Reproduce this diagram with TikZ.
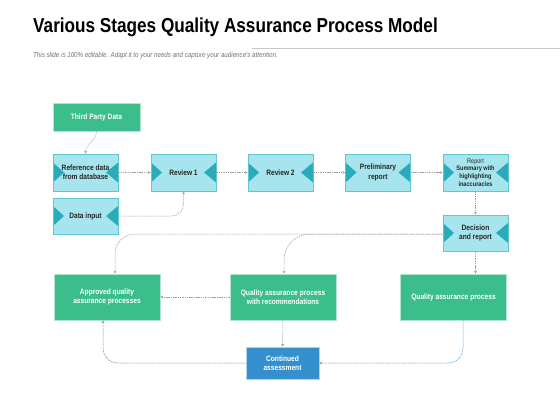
\documentclass[tikz,border=0pt]{standalone}
\usepackage{fontspec}
\setmainfont{Liberation Sans}
\newfontfamily\nf[FakeStretch=0.85]{Liberation Sans}
\usetikzlibrary{arrows.meta}
\definecolor{qgreen}{HTML}{3BBE8C}
\definecolor{qcyan}{HTML}{A6E5EE}
\definecolor{qcyanb}{HTML}{5FC6D2}
\definecolor{qteal}{HTML}{2AABB9}
\definecolor{qblue}{HTML}{3490CD}
\definecolor{qline}{HTML}{A0A0A0}
\definecolor{qbline}{HTML}{4C94CC}
\begin{document}
\begin{tikzpicture}[x=1pt,y=-1pt,
  lbl/.style={font=\nf\bfseries\fontsize{7.8}{9.3}\selectfont, align=center, inner sep=1pt},
  cbox/.style={lbl, draw=qcyanb, fill=qcyan, line width=0.6pt, text=black!85,
    minimum width=65pt, minimum height=37pt,
    path picture={
      \fill[qteal] ([yshift=10pt]path picture bounding box.west) -- ([yshift=-10pt]path picture bounding box.west) -- ([xshift=11pt]path picture bounding box.west) -- cycle;
      \fill[qteal] ([yshift=10pt]path picture bounding box.east) -- ([yshift=-10pt]path picture bounding box.east) -- ([xshift=-12pt]path picture bounding box.east) -- cycle;
    }},
  gbox/.style={lbl, draw=qgreen!40!white, fill=qgreen, line width=0.6pt, text=white},
  bbox/.style={lbl, draw=qblue!40!white, fill=qblue, line width=0.6pt, text=white},
  conn/.style={draw=qline, line width=0.5pt, dash pattern=on 1.5pt off 0.8pt, -{Stealth[length=3pt,width=3pt]}},
  bconn/.style={conn, draw=qbline, -{Stealth[length=3pt,width=3pt,open]}}
]
\useasboundingbox[fill=white] (0,0) rectangle (560,420);

% title
\node[anchor=base west, inner sep=0, font=\nf\bfseries\fontsize{20.2}{24}\selectfont] (title) at (33,33) {Various Stages Quality Assurance Process Model};
\coordinate (rl) at (252,48);
\coordinate (rr) at (560,48);
\draw[black!22, line width=0.6pt] (rl) -- (rr);
\node[anchor=base west, inner sep=0, text=black!55, font=\nf\itshape\fontsize{7.3}{8}\selectfont] (sub) at (33,57.5) {This slide is 100\% editable. Adapt it to your needs and capture your audience's attention.};

% nodes
\node[gbox, minimum width=87pt, minimum height=28pt] (tpd) at (96.5,117) {Third Party Data};
\node[cbox] (ref) at (85.5,172.5) {Reference data\\from database};
\node[cbox] (r1) at (183.5,172.5) {Review 1};
\node[cbox] (r2) at (280.5,172.5) {Review 2};
\node[cbox] (pre) at (378,172.5) {Preliminary\\report};
\node[cbox, font=\nf\bfseries\fontsize{6.6}{7.6}\selectfont] (rep) at (475.5,172.5) {{\mdseries Report}\\Summary with\\highlighting\\inaccuracies};
\node[cbox, minimum height=36pt] (din) at (85.5,216) {Data input};
\node[cbox, minimum height=36pt] (dec) at (475.5,233) {Decision\\and report};
\node[gbox, minimum width=106pt, minimum height=46pt] (app) at (107,297) {Approved quality\\assurance processes};
\node[gbox, minimum width=106pt, minimum height=46pt] (qar) at (283,297) {Quality assurance process\\with recommendations};
\node[gbox, minimum width=106pt, minimum height=46pt] (qap) at (453.5,297) {Quality assurance process};
\node[bbox, minimum width=73pt, minimum height=32pt] (con) at (282.5,363) {Continued\\assessment};

% connectors
\draw[conn] (tpd.south) to[out=-90,in=90] (ref.north);
\draw[conn] (ref) -- (r1);
\draw[conn] (r1) -- (r2);
\draw[conn] (r2) -- (pre);
\draw[conn] (pre) -- (rep);
\draw[conn, rounded corners=12pt] (din.east) -| (r1.south);
\draw[conn] (rep) -- (dec);
\draw[conn, rounded corners=20pt] ([yshift=-1pt]dec.west) -| ([xshift=8pt]app.north);
\draw[conn, rounded corners=26pt] ([yshift=-1pt]dec.west) -| ([xshift=1pt]qar.north);
\draw[conn] (dec.south) -- (dec.south |- qap.north);
\draw[conn] (qar) -- (app);
\draw[conn] (qar.south) -- (con.north);
\draw[bconn, rounded corners=15pt] ([xshift=9.5pt]qap.south) |- (con.east);
\draw[bconn, rounded corners=15pt] (con.west) -| ([xshift=-4pt]app.south);
\end{tikzpicture}
\end{document}
